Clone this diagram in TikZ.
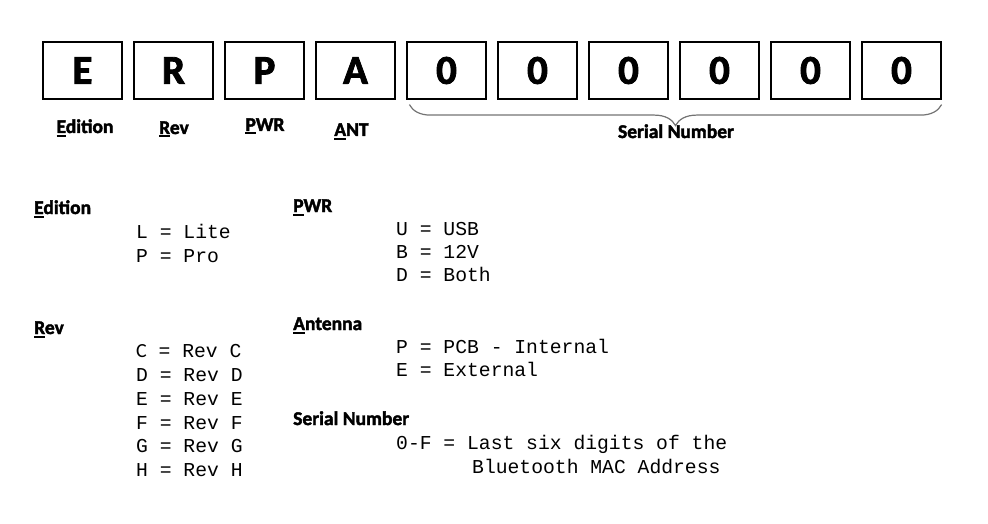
\documentclass[tikz,border=0pt]{standalone}
\usepackage{fontspec}
\usepackage{tikz}
\setmainfont{Carlito}[BoldFont={Carlito Bold}, BoldFeatures={FakeBold=2}]
\newfontfamily\codefont{Liberation Mono}
\usetikzlibrary{decorations.pathreplacing}

% underline the first letter only
\newcommand{\ulletter}[1]{\setbox0\hbox{#1}\rlap{\rule[-3.5pt]{\wd0}{2pt}}#1}

\tikzset{
  digitbox/.style={draw=black, line width=1.2pt, minimum width=79pt,
    minimum height=57pt, inner sep=0pt,
    font=\bfseries\fontsize{41}{48}\selectfont},
  fieldlabel/.style={anchor=base, inner sep=0pt,
    font=\bfseries\fontsize{19.5}{24}\selectfont},
  heading/.style={anchor=base west, inner sep=0pt,
    font=\bfseries\fontsize{19.5}{24}\selectfont},
  codeline/.style={anchor=base west, inner sep=0pt,
    font=\codefont\fontsize{19.7}{24}\selectfont},
  serialbrace/.style={decorate, decoration={brace, mirror, amplitude=21pt},
    draw=black!55, line width=1.2pt}
}

\begin{document}
\begin{tikzpicture}[x=1pt, y=-1pt]

  \useasboundingbox (0,0) rectangle (988,524);

  % ══ CODE BOXES ════════════════════════════════════════════════
  \node[digitbox] (boxE)  at ( 82.5, 70.5) {E};
  \node[digitbox] (boxR)  at (173.5, 70.5) {R};
  \node[digitbox] (boxP)  at (264.5, 70.5) {P};
  \node[digitbox] (boxA)  at (355.5, 70.5) {A};
  \node[digitbox] (boxSa) at (446.5, 70.5) {0};
  \node[digitbox] (boxSb) at (537.5, 70.5) {0};
  \node[digitbox] (boxSc) at (628.5, 70.5) {0};
  \node[digitbox] (boxSd) at (719.5, 70.5) {0};
  \node[digitbox] (boxSe) at (810.5, 70.5) {0};
  \node[digitbox] (boxSf) at (901.5, 70.5) {0};

  % ══ FIELD NAMES ═══════════════════════════════════════════════
  \node[fieldlabel] (labEdition) at ( 85.0, 133) {\ulletter{E}dition};
  \node[fieldlabel] (labRev)     at (174.0, 134) {\ulletter{R}ev};
  \node[fieldlabel] (labPwr)     at (265.0, 131) {\ulletter{P}WR};
  \node[fieldlabel] (labAnt)     at (351.5, 136) {\ulletter{A}NT};

  % ══ SERIAL BRACE ══════════════════════════════════════════════
  \draw[serialbrace] ([xshift=3pt, yshift=-5pt]boxSa.south west)
    -- ([yshift=-5pt]boxSf.south east);
  \node[fieldlabel] (labSerial) at (676, 138) {Serial Number};

  % ══ LEGEND: left column ═══════════════════════════════════════
  \node[heading] (headEdition) at (34, 214) {\ulletter{E}dition};
  \node[codeline] (edL) at (136, 238) {L = Lite};
  \node[codeline] (edP) at (136, 262) {P = Pro};

  \node[heading] (headRev) at (34, 334) {\ulletter{R}ev};
  \node[codeline] (revC) at (136, 357) {{\rmfamily\fontsize{20}{24}\selectfont C} = Rev C};
  \node[codeline] (revD) at (136, 381) {D = Rev D};
  \node[codeline] (revE) at (136, 405) {E = Rev E};
  \node[codeline] (revF) at (136, 429) {F = Rev F};
  \node[codeline] (revG) at (136, 452) {G = Rev G};
  \node[codeline] (revH) at (136, 476) {H = Rev H};

  % ══ LEGEND: right column ══════════════════════════════════════
  \node[heading] (headPwr) at (293, 212) {\ulletter{P}WR};
  \node[codeline] (pwrU) at (396, 235) {U = USB};
  \node[codeline] (pwrB) at (396, 258) {B = 12V};
  \node[codeline] (pwrD) at (396, 281) {D = Both};

  \node[heading] (headAnt) at (293, 330) {\ulletter{A}ntenna};
  \node[codeline] (antP) at (396, 353) {P = PCB - Internal};
  \node[codeline] (antE) at (396, 376) {E = External};

  \node[heading] (headSerial) at (293, 425) {Serial Number};
  \node[codeline] (serA) at (396, 449) {0-F = Last six digits of the};
  \node[codeline] (serB) at (472, 473) {Bluetooth MAC Address};

\end{tikzpicture}
\end{document}
